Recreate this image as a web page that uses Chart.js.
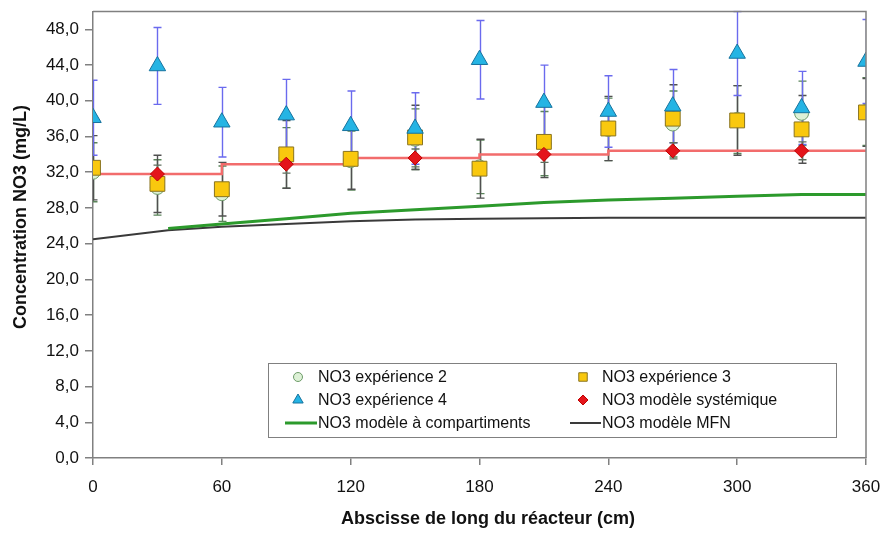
<!DOCTYPE html>
<html>
<head>
<meta charset="utf-8">
<script src="https://cdn.jsdelivr.net/npm/chart.js@4/dist/chart.umd.min.js"></script>
<style>
  body { margin: 0; background: #fff; }
  #chart { display: block; }
</style>
</head>
<body>
<canvas id="chart" width="889" height="534"></canvas>
<script>
// Data
const xPos = [0, 30, 60, 90, 120, 150, 180, 210, 240, 270, 300, 330, 360];

const exp2 = [32.0, 30.3, 29.6, 33.6, 33.3, 35.7, 32.6, 35.2, 36.8, 37.4, 37.9, 38.6, 38.8];
const exp2Err = [3.3, 3.1, 3.1, 3.4, 3.3, 3.4, 3.0, 3.6, 3.5, 3.7, 3.8, 3.6, 3.8];

const exp3 = [32.5, 30.7, 30.1, 34.0, 33.5, 35.9, 32.4, 35.4, 36.9, 38.0, 37.8, 36.8, 38.7];
const exp3Err = [3.6, 3.2, 3.0, 3.8, 3.4, 3.6, 3.3, 4.0, 3.6, 3.8, 3.9, 3.8, 3.8];

const exp4 = [38.1, 43.9, 37.6, 38.4, 37.2, 36.9, 44.6, 39.8, 38.8, 39.4, 45.3, 39.2, 44.4];
const exp4Err = [4.2, 4.3, 3.9, 4.0, 3.9, 4.0, 4.4, 4.2, 4.0, 4.1, 4.7, 4.1, 4.7];

const sysX = [30, 90, 150, 210, 270, 330];
const sysY = [31.8, 32.9, 33.6, 34.0, 34.4, 34.4];
const sysErr = [1.0, 1.0, 1.0, 0.9, 0.9, 1.0];

// step line of the systemic model (value holds until the next x)
const stepX = [0, 60, 120, 180, 240, 360];
const stepY = [31.8, 32.9, 33.6, 34.0, 34.4, 34.4];

const compX = [35, 60, 90, 120, 150, 180, 210, 240, 270, 300, 330, 360];
const compY = [25.7, 26.2, 26.8, 27.4, 27.8, 28.2, 28.6, 28.9, 29.1, 29.3, 29.5, 29.5];

const mfnX = [0, 35, 60, 90, 120, 150, 180, 240, 300, 360];
const mfnY = [24.5, 25.5, 25.9, 26.2, 26.5, 26.7, 26.8, 26.9, 26.9, 26.9];

const yTicks = [0, 4, 8, 12, 16, 20, 24, 28, 32, 36, 40, 44, 48];
const xTicks = [0, 60, 120, 180, 240, 300, 360];

const FONT = "'Liberation Sans', Arial, sans-serif";
const pts = (xs, ys) => xs.map((x, i) => ({ x, y: ys[i] }));

// error bars, drawn under the markers
const errorBars = {
    id: 'errorBars',
    beforeDatasetsDraw(chart) {
        const { ctx, chartArea, scales: { x, y } } = chart;
        ctx.save();
        ctx.beginPath();
        ctx.rect(chartArea.left, chartArea.top - 1, chartArea.right - chartArea.left, chartArea.bottom - chartArea.top);
        ctx.clip();
        chart.data.datasets.forEach(ds => {
            if (!ds.errors) return;
            ctx.strokeStyle = ds.errorColor;
            ctx.lineWidth = 1.4;
            ds.data.forEach((p, j) => {
                const e = ds.errors[j];
                const px = Math.round(x.getPixelForValue(p.x)) + 0.5;
                const top = y.getPixelForValue(p.y + e);
                const bot = y.getPixelForValue(p.y - e);
                ctx.beginPath();
                ctx.moveTo(px, top); ctx.lineTo(px, bot);
                ctx.moveTo(px - 4, top); ctx.lineTo(px + 4, top);
                ctx.moveTo(px - 4, bot); ctx.lineTo(px + 4, bot);
                ctx.stroke();
            });
        });
        ctx.restore();
    }
};

// frame, axis titles and the boxed legend
const decorations = {
    id: 'decorations',
    afterDraw(chart) {
        const { ctx, chartArea: a } = chart;
        ctx.save();
        ctx.strokeStyle = '#808080';
        ctx.lineWidth = 1.5;
        ctx.beginPath();
        ctx.moveTo(a.left, a.top); ctx.lineTo(a.right, a.top); ctx.lineTo(a.right, a.bottom);
        ctx.stroke();

        ctx.fillStyle = '#111';
        ctx.font = 'bold 18px ' + FONT;
        ctx.textAlign = 'center';
        ctx.textBaseline = 'middle';
        ctx.fillText('Abscisse de long du réacteur (cm)', 488, 519);
        ctx.translate(21, 217);
        ctx.rotate(-Math.PI / 2);
        ctx.fillText('Concentration NO3 (mg/L)', 0, 0);
        ctx.restore();

        // legend
        ctx.save();
        ctx.fillStyle = '#fff';
        ctx.fillRect(268, 363, 568, 74);
        ctx.strokeStyle = '#808080';
        ctx.lineWidth = 1;
        ctx.strokeRect(268.5, 363.5, 568, 74);
        const rows = [377, 400, 423];
        const symX = [298, 583], txtX = [318, 602], lineX = [[285, 317], [570, 601]];
        const items = [
            [0, 0, 0], [1, 0, 1], [2, 1, 0], [3, 1, 1], [4, 2, 0], [5, 2, 1]
        ];
        items.forEach(([di, r, c]) => {
            const ds = chart.data.datasets[di];
            const yy = rows[r];
            if (ds.showLine) {
                ctx.strokeStyle = ds.borderColor;
                ctx.lineWidth = ds.borderWidth;
                ctx.beginPath();
                ctx.moveTo(lineX[c][0], yy); ctx.lineTo(lineX[c][1], yy);
                ctx.stroke();
            } else {
                ctx.fillStyle = ds.pointBackgroundColor;
                ctx.strokeStyle = ds.pointBorderColor;
                ctx.lineWidth = 1;
                Chart.helpers.drawPoint(ctx, {
                    pointStyle: ds.pointStyle, radius: ds.legendRadius, rotation: 0, borderWidth: 1
                }, symX[c], yy);
            }
            ctx.fillStyle = '#111';
            ctx.font = '16px ' + FONT;
            ctx.textAlign = 'left';
            ctx.textBaseline = 'middle';
            ctx.fillText(ds.label, txtX[c], yy + 1);
        });
        ctx.restore();
    }
};

new Chart(document.getElementById('chart'), {
    type: 'scatter',
    data: {
        datasets: [
            {
                label: 'NO3 expérience 2', data: pts(xPos, exp2), errors: exp2Err, errorColor: '#5a845a',
                pointStyle: 'circle', pointRadius: 7, legendRadius: 4.5,
                pointBackgroundColor: '#ddf1d6', pointBorderColor: '#6e9c6a', pointBorderWidth: 1, order: 6
            },
            {
                label: 'NO3 expérience 3', data: pts(xPos, exp3), errors: exp3Err, errorColor: '#505050',
                pointStyle: 'rect', pointRadius: 10.5, legendRadius: 6,
                pointBackgroundColor: '#f9c80e', pointBorderColor: '#8a7420', pointBorderWidth: 1, order: 5
            },
            {
                label: 'NO3 expérience 4', data: pts(xPos, exp4), errors: exp4Err, errorColor: '#6a6aee',
                pointStyle: 'triangle', pointRadius: 9.5, legendRadius: 6,
                pointBackgroundColor: '#25b4e4', pointBorderColor: '#17739e', pointBorderWidth: 1, order: 3
            },
            {
                label: 'NO3 modèle systémique', data: pts(sysX, sysY), errors: sysErr, errorColor: '#607060',
                pointStyle: 'rectRot', pointRadius: 7, legendRadius: 5,
                pointBackgroundColor: '#e4151b', pointBorderColor: '#c00000', pointBorderWidth: 1, order: 2
            },
            {
                label: 'NO3 modèle à compartiments', data: pts(compX, compY), showLine: true,
                borderColor: '#2c9a2c', borderWidth: 3, pointRadius: 0, order: 9
            },
            {
                label: 'NO3 modèle MFN', data: pts(mfnX, mfnY), showLine: true,
                borderColor: '#3a3a3a', borderWidth: 2, pointRadius: 0, order: 10
            },
            {
                label: 'step', data: pts(stepX, stepY), showLine: true, stepped: 'before',
                borderColor: '#f26c6c', borderWidth: 2.5, pointRadius: 0, order: 8
            }
        ]
    },
    options: {
        responsive: false,
        animation: false,
        devicePixelRatio: 1,
        layout: { padding: { top: 10, right: 23, left: 0, bottom: 0 } },
        plugins: { legend: { display: false }, tooltip: { enabled: false } },
        scales: {
            x: {
                type: 'linear', min: 0, max: 360,
                afterFit: s => { s.height = 76; s.paddingLeft = 0; s.paddingRight = 0; },
                afterBuildTicks: s => { s.ticks = xTicks.map(v => ({ value: v })); },
                grid: { drawOnChartArea: false, drawTicks: true, tickLength: 7, color: '#808080', lineWidth: 1.5 },
                border: { color: '#808080', width: 1.5 },
                ticks: { color: '#111', padding: 12, font: { family: FONT, size: 17 }, maxRotation: 0 }
            },
            y: {
                type: 'linear', min: 0, max: 50,
                afterFit: s => { s.width = 93; s.paddingTop = 0; s.paddingBottom = 0; },
                afterBuildTicks: s => { s.ticks = yTicks.map(v => ({ value: v })); },
                grid: { drawOnChartArea: false, drawTicks: true, tickLength: 8, color: '#808080', lineWidth: 1.5 },
                border: { color: '#808080', width: 1.5 },
                ticks: {
                    color: '#111', padding: 6, font: { family: FONT, size: 17 },
                    callback: v => v.toFixed(1).replace('.', ',')
                }
            }
        }
    },
    plugins: [errorBars, decorations]
});
</script>
</body>
</html>
